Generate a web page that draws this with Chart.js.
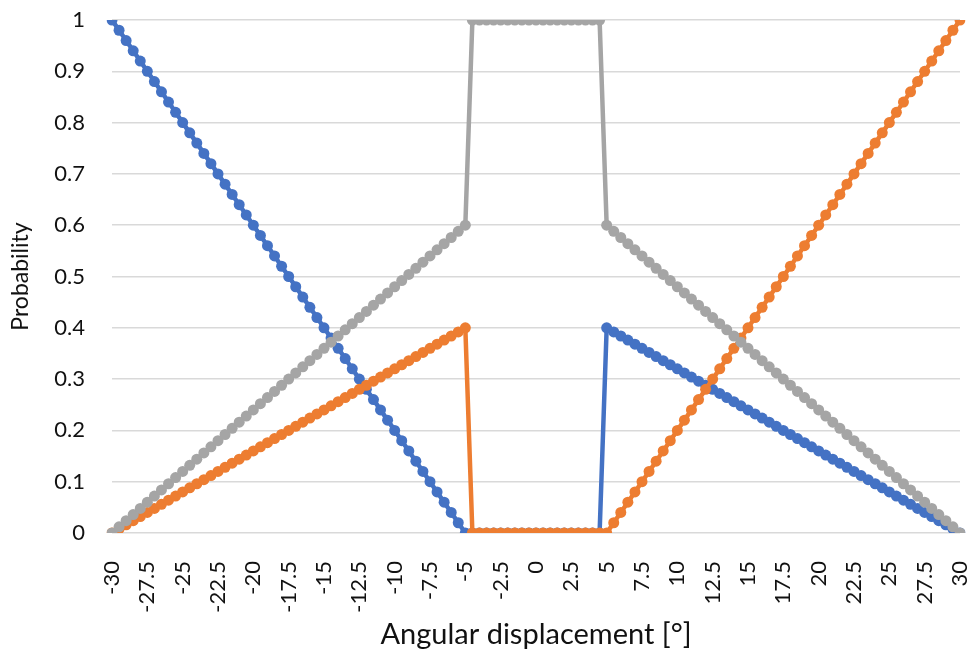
<!DOCTYPE html>
<html lang="en">
<head>
    <meta charset="UTF-8">
    <title>Angular displacement probability</title>
    <script src="https://cdn.jsdelivr.net/npm/chart.js"></script>
    <style>
        html, body {
            margin: 0;
            padding: 0;
            background: #ffffff;
        }
        .chart-container {
            position: relative;
            width: 976px;
            height: 660px;
        }
    </style>
</head>
<body>
    <div class="chart-container">
        <canvas id="probChart"></canvas>
    </div>

    <script>
        // x categories, degrees (step 0.5)
        const angles = [
            -30, -29.5, -29, -28.5, -28, -27.5, -27, -26.5, -26, -25.5,
            -25, -24.5, -24, -23.5, -23, -22.5, -22, -21.5, -21, -20.5,
            -20, -19.5, -19, -18.5, -18, -17.5, -17, -16.5, -16, -15.5,
            -15, -14.5, -14, -13.5, -13, -12.5, -12, -11.5, -11, -10.5,
            -10, -9.5, -9, -8.5, -8, -7.5, -7, -6.5, -6, -5.5,
            -5, -4.5, -4, -3.5, -3, -2.5, -2, -1.5, -1, -0.5,
            0, 0.5, 1, 1.5, 2, 2.5, 3, 3.5, 4, 4.5,
            5, 5.5, 6, 6.5, 7, 7.5, 8, 8.5, 9, 9.5,
            10, 10.5, 11, 11.5, 12, 12.5, 13, 13.5, 14, 14.5,
            15, 15.5, 16, 16.5, 17, 17.5, 18, 18.5, 19, 19.5,
            20, 20.5, 21, 21.5, 22, 22.5, 23, 23.5, 24, 24.5,
            25, 25.5, 26, 26.5, 27, 27.5, 28, 28.5, 29, 29.5,
            30
        ];

        const blueSeries = [
            1, 0.98, 0.96, 0.94, 0.92, 0.9, 0.88, 0.86, 0.84, 0.82,
            0.8, 0.78, 0.76, 0.74, 0.72, 0.7, 0.68, 0.66, 0.64, 0.62,
            0.6, 0.58, 0.56, 0.54, 0.52, 0.5, 0.48, 0.46, 0.44, 0.42,
            0.4, 0.38, 0.36, 0.34, 0.32, 0.3, 0.28, 0.26, 0.24, 0.22,
            0.2, 0.18, 0.16, 0.14, 0.12, 0.1, 0.08, 0.06, 0.04, 0.02,
            0, 0, 0, 0, 0, 0, 0, 0, 0, 0,
            0, 0, 0, 0, 0, 0, 0, 0, 0, 0,
            0.4, 0.392, 0.384, 0.376, 0.368, 0.36, 0.352, 0.344, 0.336, 0.328,
            0.32, 0.312, 0.304, 0.296, 0.288, 0.28, 0.272, 0.264, 0.256, 0.248,
            0.24, 0.232, 0.224, 0.216, 0.208, 0.2, 0.192, 0.184, 0.176, 0.168,
            0.16, 0.152, 0.144, 0.136, 0.128, 0.12, 0.112, 0.104, 0.096, 0.088,
            0.08, 0.072, 0.064, 0.056, 0.048, 0.04, 0.032, 0.024, 0.016, 0.008,
            0
        ];

        const orangeSeries = [
            0, 0.008, 0.016, 0.024, 0.032, 0.04, 0.048, 0.056, 0.064, 0.072,
            0.08, 0.088, 0.096, 0.104, 0.112, 0.12, 0.128, 0.136, 0.144, 0.152,
            0.16, 0.168, 0.176, 0.184, 0.192, 0.2, 0.208, 0.216, 0.224, 0.232,
            0.24, 0.248, 0.256, 0.264, 0.272, 0.28, 0.288, 0.296, 0.304, 0.312,
            0.32, 0.328, 0.336, 0.344, 0.352, 0.36, 0.368, 0.376, 0.384, 0.392,
            0.4, 0, 0, 0, 0, 0, 0, 0, 0, 0,
            0, 0, 0, 0, 0, 0, 0, 0, 0, 0,
            0, 0.02, 0.04, 0.06, 0.08, 0.1, 0.12, 0.14, 0.16, 0.18,
            0.2, 0.22, 0.24, 0.26, 0.28, 0.3, 0.32, 0.34, 0.36, 0.38,
            0.4, 0.42, 0.44, 0.46, 0.48, 0.5, 0.52, 0.54, 0.56, 0.58,
            0.6, 0.62, 0.64, 0.66, 0.68, 0.7, 0.72, 0.74, 0.76, 0.78,
            0.8, 0.82, 0.84, 0.86, 0.88, 0.9, 0.92, 0.94, 0.96, 0.98,
            1
        ];

        const graySeries = [
            0, 0.012, 0.024, 0.036, 0.048, 0.06, 0.072, 0.084, 0.096, 0.108,
            0.12, 0.132, 0.144, 0.156, 0.168, 0.18, 0.192, 0.204, 0.216, 0.228,
            0.24, 0.252, 0.264, 0.276, 0.288, 0.3, 0.312, 0.324, 0.336, 0.348,
            0.36, 0.372, 0.384, 0.396, 0.408, 0.42, 0.432, 0.444, 0.456, 0.468,
            0.48, 0.492, 0.504, 0.516, 0.528, 0.54, 0.552, 0.564, 0.576, 0.588,
            0.6, 1, 1, 1, 1, 1, 1, 1, 1, 1,
            1, 1, 1, 1, 1, 1, 1, 1, 1, 1,
            0.6, 0.588, 0.576, 0.564, 0.552, 0.54, 0.528, 0.516, 0.504, 0.492,
            0.48, 0.468, 0.456, 0.444, 0.432, 0.42, 0.408, 0.396, 0.384, 0.372,
            0.36, 0.348, 0.336, 0.324, 0.312, 0.3, 0.288, 0.276, 0.264, 0.252,
            0.24, 0.228, 0.216, 0.204, 0.192, 0.18, 0.168, 0.156, 0.144, 0.132,
            0.12, 0.108, 0.096, 0.084, 0.072, 0.06, 0.048, 0.036, 0.024, 0.012,
            0
        ];

        // x tick labels shown every 2.5 degrees
        const xTickLabels = ['-30', '-27.5', '-25', '-22.5', '-20', '-17.5', '-15', '-12.5', '-10', '-7.5', '-5', '-2.5',
            '0', '2.5', '5', '7.5', '10', '12.5', '15', '17.5', '20', '22.5', '25', '27.5', '30'];

        const FONT = 'Lato, "Open Sans", sans-serif';
        const TEXT = '#111111';

        function series(label, data, color, order) {
            return {
                label,
                data,
                order,
                borderColor: color,
                backgroundColor: color,
                borderWidth: 4.5,
                pointRadius: 5.5,
                pointBorderWidth: 0,
                pointBackgroundColor: color,
                pointHoverRadius: 5.5,
                tension: 0,
                fill: false
            };
        }

        const ctx = document.getElementById('probChart').getContext('2d');
        const chart = new Chart(ctx, {
            type: 'line',
            data: {
                labels: angles,
                datasets: [
                    series('Series 1', blueSeries, '#4472C4', 2),
                    series('Series 2', orangeSeries, '#ED7D31', 1),
                    series('Series 3', graySeries, '#A5A5A5', 0)
                ]
            },
            options: {
                responsive: true,
                maintainAspectRatio: false,
                animation: false,
                events: [],
                layout: {
                    padding: { top: 20, right: 16, bottom: 0, left: 0 }
                },
                plugins: {
                    legend: { display: false },
                    tooltip: { enabled: false }
                },
                scales: {
                    x: {
                        type: 'category',
                        offset: false,
                        grid: { display: false },
                        border: { display: false },
                        ticks: {
                            autoSkip: false,
                            minRotation: 90,
                            maxRotation: 90,
                            padding: 20,
                            color: TEXT,
                            font: { family: FONT, size: 22 },
                            callback: (val, i) => (i % 5 === 0 ? xTickLabels[i / 5] : '')
                        },
                        title: {
                            display: true,
                            text: 'Angular displacement [°]',
                            color: TEXT,
                            font: { family: FONT, size: 29 },
                            padding: { top: 0, bottom: 8 }
                        },
                        afterFit: s => {
                            s.height = 127;
                            s.paddingLeft = 0;
                            s.paddingRight = 0;
                        }
                    },
                    y: {
                        min: 0,
                        max: 1,
                        grid: {
                            color: '#d9d9d9',
                            lineWidth: 1.5,
                            drawTicks: false
                        },
                        border: { display: false },
                        ticks: {
                            stepSize: 0.1,
                            padding: 27,
                            color: TEXT,
                            font: { family: FONT, size: 22 },
                            callback: v => String(Number(v.toFixed(1)))
                        },
                        title: {
                            display: true,
                            text: 'Probability',
                            color: TEXT,
                            font: { family: FONT, size: 23 },
                            padding: { top: 7, bottom: 0 }
                        },
                        afterFit: s => {
                            s.width = 112;
                            s.paddingTop = 0;
                            s.paddingBottom = 0;
                        }
                    }
                }
            }
        });
    </script>
</body>
</html>
